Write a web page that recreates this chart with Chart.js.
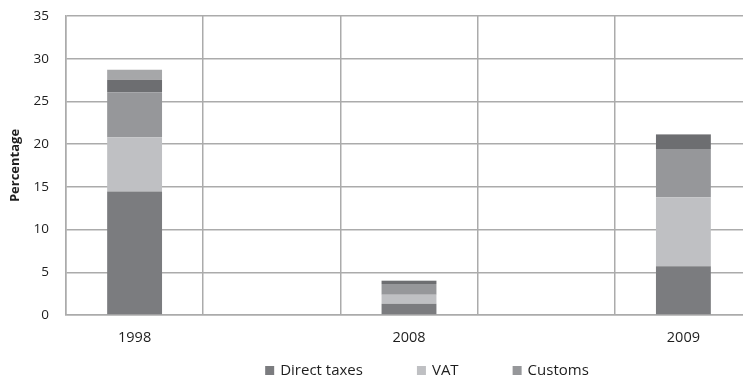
<!DOCTYPE html>
<html>
<head>
<meta charset="utf-8">
<script src="https://cdn.jsdelivr.net/npm/chart.js@4/dist/chart.umd.min.js"></script>
<style>
  html, body { margin: 0; padding: 0; background: #fff; overflow: hidden; }
  #wrap { width: 752px; height: 379px; }
</style>
</head>
<body>
<div id="wrap"><canvas id="taxChart"></canvas></div>
<script>
// years with empty slots in between
const categories = ['1998', '', '2008', '', '2009'];

const directTaxes = [14.45, null, 1.32, null, 5.7];
const vat = [6.35, null, 1.06, null, 8.08];
const customs = [5.27, null, 1.25, null, 5.66];
const excise = [1.48, null, 0.35, null, 1.66];
const otherTaxes = [1.15, null, 0.05, null, 0.1];

const yTicks = [0, 5, 10, 15, 20, 25, 30, 35];

const seriesNames = ['Direct taxes', 'VAT', 'Customs', 'Excise', 'Other'];
const seriesColors = ['#7b7c7f', '#bfc0c3', '#96979a', '#6d6e71', '#a6a7a9'];
const legendCount = 3;

const font = "'Open Sans', sans-serif";

// legend row drawn under the axis, only the first three series
const bottomLegend = {
    id: 'bottomLegend',
    afterDraw(chart) {
        const ctx = chart.ctx;
        const box = 9;
        const gap = 6;
        const spacing = 54;
        ctx.save();
        ctx.font = '15px ' + font;
        const widths = seriesNames.slice(0, legendCount).map(n => box + gap + ctx.measureText(n).width);
        const total = widths.reduce((a, b) => a + b, 0) + spacing * (legendCount - 1);
        let x = 427 - total / 2;
        const y = 370.5;
        ctx.textBaseline = 'middle';
        ctx.textAlign = 'left';
        for (let i = 0; i < legendCount; i++) {
            ctx.fillStyle = seriesColors[i];
            ctx.fillRect(x, y - box / 2, box, box);
            ctx.fillStyle = '#1e1e1e';
            ctx.fillText(seriesNames[i], x + box + gap, y);
            x += widths[i] + spacing;
        }
        ctx.restore();
    }
};

const seriesData = [directTaxes, vat, customs, excise, otherTaxes];

const ctx = document.getElementById('taxChart').getContext('2d');
new Chart(ctx, {
    type: 'bar',
    data: {
        labels: categories,
        datasets: seriesData.map((d, i) => ({
            label: seriesNames[i],
            data: d,
            backgroundColor: seriesColors[i],
            borderWidth: 0,
            barPercentage: 0.4,
            categoryPercentage: 1
        }))
    },
    options: {
        responsive: true,
        maintainAspectRatio: false,
        animation: false,
        layout: { padding: { top: 16, right: 0, bottom: 30, left: 0 } },
        plugins: {
            legend: { display: false },
            tooltip: { enabled: false }
        },
        scales: {
            x: {
                stacked: true,
                offset: true,
                grid: {
                    offset: true,
                    color: '#ababab',
                    lineWidth: 1.5,
                    drawTicks: false
                },
                border: { color: '#ababab', width: 1.5 },
                ticks: {
                    padding: 14,
                    color: '#1e1e1e',
                    font: { family: font, size: 14.5 },
                    maxRotation: 0,
                    autoSkip: false
                },
                afterFit(scale) { scale.height = 34; }
            },
            y: {
                stacked: true,
                min: 0,
                max: 35,
                afterBuildTicks(scale) {
                    scale.ticks = yTicks.map(v => ({ value: v }));
                },
                grid: {
                    color: '#ababab',
                    lineWidth: 1.5,
                    drawTicks: false
                },
                border: { color: '#ababab', width: 1.5 },
                ticks: {
                    padding: 17,
                    color: '#1e1e1e',
                    font: { family: font, size: 13.5 }
                },
                title: {
                    display: true,
                    text: 'Percentage',
                    color: '#1e1e1e',
                    font: { family: font, size: 13, weight: 'bold' },
                    padding: { top: 7, bottom: 0 }
                },
                afterFit(scale) {
                    scale.width = 66;
                    // tick padding would otherwise push the plot down
                    scale.paddingTop = 8;
                    scale.paddingBottom = 8;
                }
            }
        }
    },
    plugins: [bottomLegend]
});
</script>
</body>
</html>
